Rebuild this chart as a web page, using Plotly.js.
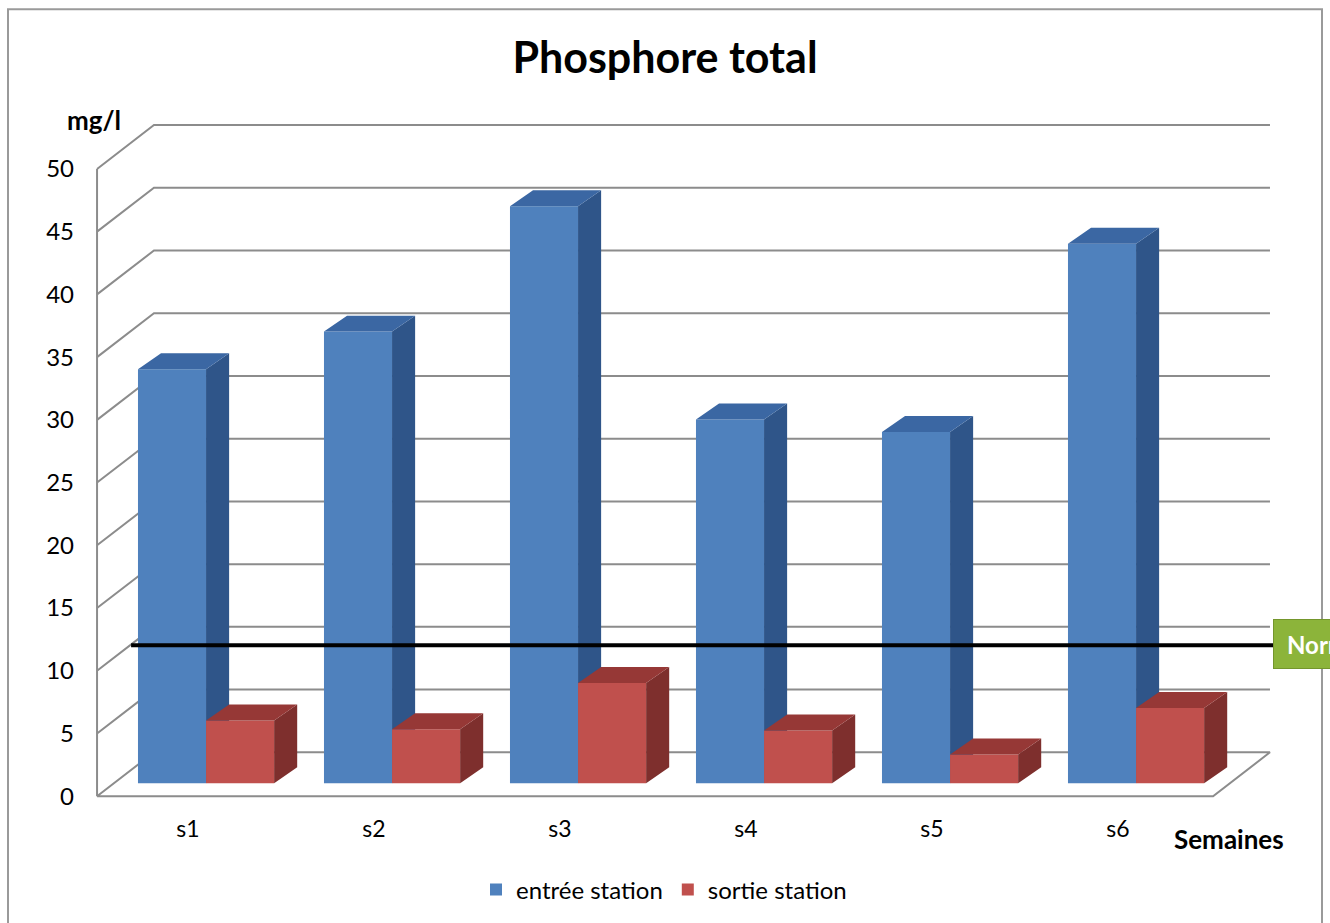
<!DOCTYPE html>
<html>
<head>
<meta charset="utf-8">
<script src="https://cdn.plot.ly/plotly-3.0.1.min.js"></script>
<style>html,body{margin:0;padding:0;background:#fff;}#chart{width:1330px;height:923px;}</style>
</head>
<body>
<div id="chart"></div>
<script>
// ---- data ----
const categories = ["s1", "s2", "s3", "s4", "s5", "s6"];
const entreeStation = [33, 36, 46, 29, 28, 43];
const sortieStation = [5, 4.3, 8, 4.2, 2.3, 6];
const seriesNames = ["entrée station", "sortie station"];
const yTicks = [0, 5, 10, 15, 20, 25, 30, 35, 40, 45, 50];
const normeValue = 11;

// ---- style / geometry (faux 3D projection, in axis units) ----
const W = 1330, H = 923;
const M = {l: 93, r: 55, t: 120, b: 122};
const XR = [0.4892, 6.844], YR = [-0.3, 53.9];
const WDX = 0.306, WDY = 3.5;      // wall depth offset
const PDX = 0.097, PDY = 1.035;    // bar plane offset
const BDX = 0.124, BDY = 1.27;     // bar depth
const BW = 0.366;                  // bar width
const FLOOR_L = 0.511, FLOOR_R = 6.511;
const colors = {
  front: ["#4F81BD", "#C0504D"],
  side:  ["#2F5589", "#7E2F2D"],
  top:   ["#3B67A3", "#963836"]
};
const pw = W - M.l - M.r, ph = H - M.t - M.b;
const px2paperX = p => (p - M.l) / pw;
const px2paperY = p => (H - M.b - p) / ph;

const traces = [];

// back wall / floor grid lines
const gx = [], gy = [];
yTicks.forEach(v => {
  if (v === 0) return;
  gx.push(FLOOR_L, FLOOR_L + WDX, FLOOR_R + WDX, null);
  gy.push(v, v + WDY, v + WDY, null);
});
// floor
gx.push(FLOOR_L, FLOOR_R, FLOOR_R + WDX, FLOOR_L + WDX, FLOOR_L, null);
gy.push(0, 0, WDY, WDY, 0, null);
// front vertical axis
gx.push(FLOOR_L, FLOOR_L, null);
gy.push(0, yTicks[yTicks.length - 1], null);
traces.push({type: "scatter", mode: "lines", x: gx, y: gy, hoverinfo: "skip",
  line: {color: "#8C8C8C", width: 2}, showlegend: false});

// bars
[entreeStation, sortieStation].forEach((vals, s) => {
  const F = {x: [], y: []}, S = {x: [], y: []}, T = {x: [], y: []};
  vals.forEach((v, i) => {
    const c = i + 1;
    const x0 = c + PDX - BW + s * BW, x1 = x0 + BW;
    const yb = PDY, yt = PDY + v;
    F.x.push(x0, x1, x1, x0, x0, null); F.y.push(yb, yb, yt, yt, yb, null);
    S.x.push(x1, x1 + BDX, x1 + BDX, x1, x1, null); S.y.push(yb, yb + BDY, yt + BDY, yt, yb, null);
    T.x.push(x0, x1, x1 + BDX, x0 + BDX, x0, null); T.y.push(yt, yt, yt + BDY, yt + BDY, yt, null);
  });
  [[F, colors.front[s]], [S, colors.side[s]], [T, colors.top[s]]].forEach(([p, col]) => {
    traces.push({type: "scatter", mode: "lines", x: p.x, y: p.y, fill: "toself",
      fillcolor: col, line: {width: 0, color: col}, hoverinfo: "skip", showlegend: false});
  });
});

// norme line
traces.push({type: "scatter", mode: "lines", x: [0.694, 6.85], y: [normeValue + PDY, normeValue + PDY],
  line: {color: "#000000", width: 4}, showlegend: false, hoverinfo: "skip"});

// legend entries
seriesNames.forEach((n, s) => {
  traces.push({type: "bar", name: n, x: [null], y: [null], marker: {color: colors.front[s]}});
});

const FONT = "Lato, 'Open Sans', sans-serif";
const layout = {
  width: W, height: H,
  margin: M,
  paper_bgcolor: "#ffffff", plot_bgcolor: "rgba(0,0,0,0)",
  font: {family: FONT, color: "#000000", size: 23},
  title: {text: "<b>Phosphore total</b>", x: px2paperX(665), xanchor: "center", xref: "paper",
    y: 1 - 58 / H, yanchor: "middle", yref: "container",
    font: {family: FONT, size: 43, color: "#000000"}},
  xaxis: {range: XR, showgrid: false, zeroline: false, showline: false,
    tickvals: categories.map((c, i) => i + 1), ticktext: categories,
    ticks: "", ticklabelstandoff: 13, tickfont: {size: 23, family: FONT, color: "#000"}, fixedrange: true},
  yaxis: {range: YR, showgrid: false, zeroline: false, showline: false,
    tickvals: yTicks, ticktext: yTicks.map(String), ticks: "", ticklabelstandoff: 18,
    tickfont: {size: 24, family: FONT, color: "#000"}, fixedrange: true},
  showlegend: true,
  legend: {orientation: "h", x: px2paperX(664), xanchor: "center", y: px2paperY(890), yanchor: "middle",
    font: {size: 24, family: FONT, color: "#000"}, itemclick: false, itemdoubleclick: false, traceorder: "normal"},
  annotations: [
    {text: "<b>mg/l</b>", xref: "paper", yref: "paper", x: px2paperX(94), y: px2paperY(120),
      xanchor: "center", yanchor: "middle", showarrow: false, font: {size: 26, family: FONT, color: "#000"}},
    {text: "<b>Semaines</b>", xref: "paper", yref: "paper", x: px2paperX(1229), y: px2paperY(840),
      xanchor: "center", yanchor: "middle", showarrow: false, font: {size: 26, family: FONT, color: "#000"}},
    {text: "<b>Norme</b>", xref: "paper", yref: "paper", x: px2paperX(1273), y: px2paperY(645),
      xanchor: "left", yanchor: "middle", showarrow: false, align: "left",
      width: 90, height: 22, borderpad: 13, bgcolor: "#8CB43A", bordercolor: "#74962C", borderwidth: 1,
      font: {size: 24, family: FONT, color: "#ffffff"}}
  ],
  shapes: [
    {type: "path", xref: "paper", yref: "paper", layer: "above",
      path: "M " + px2paperX(8) + " " + px2paperY(940) + " L " + px2paperX(8) + " " + px2paperY(9) +
        " L " + px2paperX(1322) + " " + px2paperY(9) + " L " + px2paperX(1322) + " " + px2paperY(940),
      line: {color: "#9A9A9A", width: 2}}
  ]
};

Plotly.newPlot("chart", traces, layout, {staticPlot: true, displayModeBar: false});
</script>
</body>
</html>
